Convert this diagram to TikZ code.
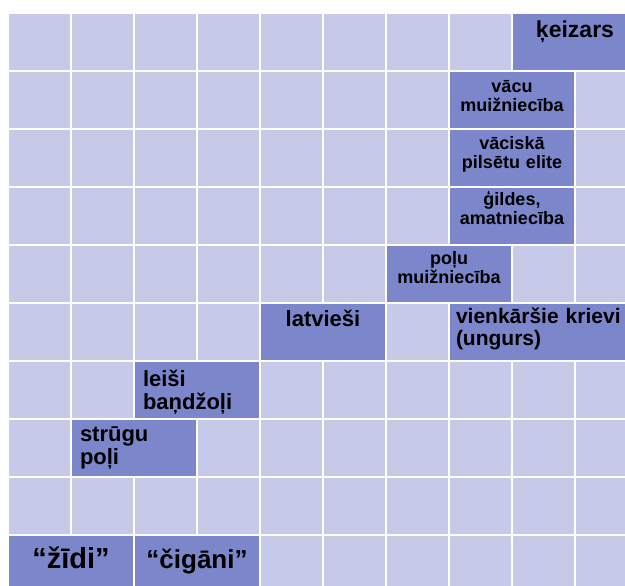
\documentclass[tikz,border=0pt]{standalone}
\usepackage{fontspec}
\setmainfont{Liberation Sans}
\definecolor{cellfill}{HTML}{C6C9E8}
\definecolor{boxfill}{HTML}{7B86CB}

\begin{document}
\begin{tikzpicture}[x=63pt, y=-58pt,
  grid line/.style={draw=white, line width=1.2pt},
  b/.style={fill=boxfill, draw=white, line width=1.2pt, anchor=north west, inner xsep=9pt, inner ysep=0pt, outer sep=0pt, text width=108pt, align=center},
  wide/.style={text width=175pt, inner xsep=7pt},
  drop/.style 2 args={text height=#1pt, text depth=#2pt},
  big/.style={font=\bfseries\fontsize{22}{23.5}\selectfont},
  small/.style={font=\bfseries\fontsize{18}{19}\selectfont}]
\useasboundingbox (-8pt,13pt) rectangle (617pt,-573pt);
\clip (-8pt,13pt) rectangle (617pt,-573pt);
% background cells
\fill[cellfill] (0,0) rectangle (10,10);
\foreach \i in {0,...,10} \draw[grid line] (\i,0) -- (\i,10);
\foreach \j in {0,...,10} \draw[grid line] (0,\j) -- (10,\j);
% upper column
\node[b, drop={25}{33}, font=\bfseries\fontsize{23}{25}\selectfont] (keizars) at (8,0) {ķeizars};
\node[b, small, drop={22}{36}] (vacu) at (7,1) {vācu\\muižniecība};
\node[b, small, drop={21}{37}] (pilseta) at (7,2) {vāciskā\\pilsētu elite};
\node[b, small, drop={19}{39}] (gildes) at (7,3) {ģildes,\\amatniecība};
\node[b, small, drop={20}{38}] (polu) at (6,4) {poļu\\muižniecība};
% middle rows
\node[b, big, drop={23}{35}] (latviesi) at (4,5) {latvieši};
\node[b, wide, align=left, drop={20}{38}, font=\bfseries\fontsize{21}{23}\selectfont] (krievi) at (7,5) {vienkāršie krievi\\(ungurs)};
\node[b, big, align=left, drop={25}{33}] (leisi) at (2,6) {leiši\\baņdžoļi};
\node[b, big, align=left, drop={22}{36}] (strugu) at (1,7) {strūgu\\poļi};
% bottom row
\node[b, drop={33}{25}, font=\bfseries\fontsize{29}{31}\selectfont] (zidi) at (0,9) {“žīdi”};
\node[b, drop={33}{25}, font=\bfseries\fontsize{26}{28}\selectfont] (cigani) at (2,9) {“čigāni”};
\end{tikzpicture}
\end{document}
